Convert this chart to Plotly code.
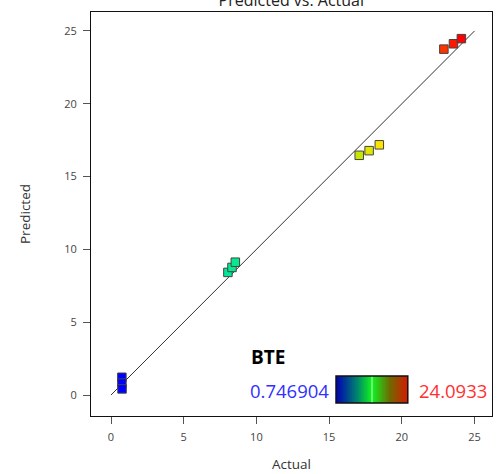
import numpy as np
import plotly.graph_objects as go

# ---- data ----
actual = [0.746904, 0.75, 0.76, 8.04, 8.32, 8.55, 17.07, 17.75, 18.45, 22.89, 23.55, 24.0933]
predicted = [1.22, 0.82, 0.42, 8.42, 8.76, 9.12, 16.46, 16.78, 17.18, 23.75, 24.12, 24.47]
response_name = "BTE"
tick_vals = [0, 5, 10, 15, 20, 25]

vmin, vmax = min(actual), max(actual)

marker_scale = [
    [0.0, "#0000ff"], [0.31, "#00e89a"], [0.5, "#40f040"],
    [0.70, "#c8e600"], [0.76, "#ffe400"], [0.95, "#ff3200"], [1.0, "#ff0000"],
]
bar_scale = [
    [0.0, "#0000b4"], [0.3, "#00886a"], [0.49, "#10f020"], [0.5, "#b0ffb0"],
    [0.51, "#10f020"], [0.75, "#6e6a00"], [1.0, "#d81800"],
]

fig = go.Figure()

# diagonal reference line
fig.add_trace(go.Scatter(
    x=[tick_vals[0], tick_vals[-1]], y=[tick_vals[0], tick_vals[-1]],
    mode="lines", line=dict(color="#333333", width=1), hoverinfo="skip", showlegend=False,
))

fig.add_trace(go.Scatter(
    x=actual, y=predicted, mode="markers", showlegend=False,
    marker=dict(symbol="square", size=8.5, color=actual, colorscale=marker_scale,
                cmin=vmin, cmax=vmax, line=dict(color="#444444", width=1)),
))

# color legend bar as small heatmap inset
zvals = np.linspace(vmin, vmax, 120)
fig.add_trace(go.Heatmap(
    z=[zvals], x=list(range(len(zvals))), y=[0], colorscale=bar_scale,
    zmin=vmin, zmax=vmax, showscale=False, xaxis="x2", yaxis="y2", hoverinfo="skip",
))
fig.add_shape(type="rect", xref="x2 domain", yref="y2 domain", x0=0, x1=1, y0=0, y1=1,
              line=dict(color="#111111", width=1.5))

axis_common = dict(
    showline=True, mirror=True, linecolor="#111111", linewidth=1,
    ticks="outside", ticklen=7, tickwidth=1, tickcolor="#555555",
    showgrid=False, zeroline=False, tickvals=tick_vals, automargin=False,
    ticklabelstandoff=4,
    tickfont=dict(size=11, color="#444444"),
)

fig.update_layout(
    width=504, height=474,
    margin=dict(l=91, r=12, t=12, b=58, autoexpand=False),
    paper_bgcolor="white", plot_bgcolor="white",
    font=dict(family="Open Sans, Noto Sans, sans-serif", color="#333333"),
    title=dict(text="Predicted vs. Actual", x=0.578, xanchor="center",
               y=1.0, yref="container", yanchor="middle", automargin=False,
               font=dict(size=16, color="#222222")),
    xaxis=dict(range=[-1.375, 26.2], title=dict(text="Actual", font=dict(size=13.5, color="#333333"), standoff=16),
               **axis_common),
    yaxis=dict(range=[-1.44, 26.3], title=dict(text="Predicted", font=dict(size=13.5, color="#333333"), standoff=30),
               **axis_common),
    xaxis2=dict(domain=[0.611, 0.790], anchor="y2", visible=False, range=[-0.5, len(zvals) - 0.5]),
    yaxis2=dict(domain=[0.032, 0.099], anchor="x2", visible=False, range=[-0.5, 0.5]),
    annotations=[
        dict(text="<b>%s</b>" % response_name, xref="paper", yref="paper", x=0.395, y=0.146,
             xanchor="left", yanchor="middle", showarrow=False,
             font=dict(size=19, color="#000000")),
        dict(text="%g" % vmin, xref="paper", yref="paper", x=0.598, y=0.064,
             xanchor="right", yanchor="middle", showarrow=False,
             font=dict(size=18.5, color="#3030ff")),
        dict(text="%g" % vmax, xref="paper", yref="paper", x=0.812, y=0.064,
             xanchor="left", yanchor="middle", showarrow=False,
             font=dict(size=18.5, color="#ff3030")),
    ],
)

fig.write_html("out.html", config={"displayModeBar": False},
               post_script="document.body.style.margin='0';")
